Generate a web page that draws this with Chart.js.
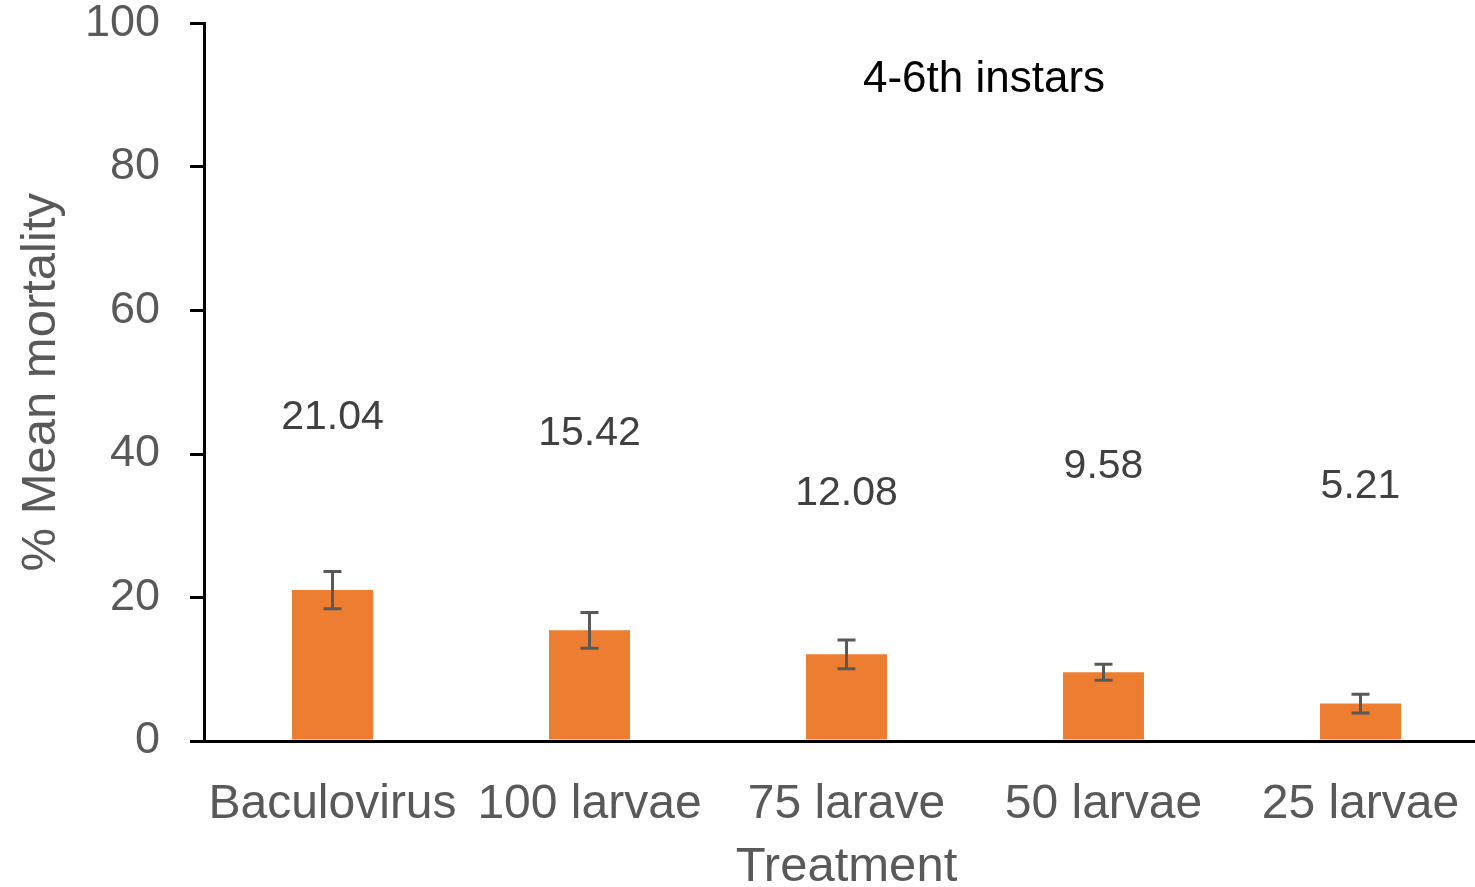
<!DOCTYPE html>
<html>
<head>
<meta charset="utf-8">
<script src="https://cdn.jsdelivr.net/npm/chart.js@4.4.1/dist/chart.umd.min.js"></script>
<style>
  html, body { margin: 0; padding: 0; background: #fff; overflow: hidden; }
  #wrap { width: 1475px; height: 887px; overflow: hidden; }
  #box { width: 1490px; height: 916px; margin-top: -29px; position: relative; }
</style>
</head>
<body>
<div id="wrap"><div id="box"><canvas id="chart"></canvas></div></div>
<script>
// data
const treatments = ["Baculovirus", "100 larvae", "75 larave", "50 larvae", "25 larvae"];
const meanMortality = [21.04, 15.42, 12.08, 9.58, 5.21];
const errorSE = [2.6, 2.5, 2.0, 1.1, 1.3];
const valueLabels = ["21.04", "15.42", "12.08", "9.58", "5.21"];
const yTicks = [0, 20, 40, 60, 80, 100];

// where the value labels sit (in % units), Excel had them hand placed
const labelLevel = [45.1, 42.8, 34.4, 38.2, 35.4];

const font = "'Liberation Sans', Arial, sans-serif";

// error bars + value labels
const extrasPlugin = {
  id: "extras",
  afterDatasetsDraw(chart) {
    const ctx = chart.ctx;
    const x = chart.scales.x, y = chart.scales.y;
    ctx.save();
    ctx.strokeStyle = "#595959";
    ctx.lineWidth = 3;
    meanMortality.forEach((v, i) => {
      const cx = x.getPixelForValue(i);
      const top = y.getPixelForValue(v + errorSE[i]);
      const bot = y.getPixelForValue(v - errorSE[i]);
      ctx.beginPath();
      ctx.moveTo(cx, top); ctx.lineTo(cx, bot);
      ctx.moveTo(cx - 9, top); ctx.lineTo(cx + 9, top);
      ctx.moveTo(cx - 9, bot); ctx.lineTo(cx + 9, bot);
      ctx.stroke();
    });
    ctx.fillStyle = "#404040";
    ctx.font = "41px " + font;
    ctx.textAlign = "center";
    ctx.textBaseline = "middle";
    valueLabels.forEach((t, i) => {
      ctx.fillText(t, x.getPixelForValue(i), y.getPixelForValue(labelLevel[i]));
    });
    // chart title sits inside the plot, just under the top
    ctx.fillStyle = "#000";
    ctx.font = "44px " + font;
    ctx.fillText("4-6th instars", 984, chart.chartArea.top + 56);
    ctx.restore();
  }
};

const config = {
  type: "bar",
  data: {
    labels: treatments,
    datasets: [{
      data: meanMortality,
      backgroundColor: "#ED7D31",
      barPercentage: 1,
      categoryPercentage: 0.315,
    }],
  },
  options: {
    responsive: true,
    maintainAspectRatio: false,
    animation: false,
    layout: { padding: { top: 0, right: 1, left: 0, bottom: 0 } },
    plugins: { legend: { display: false }, tooltip: { enabled: false } },
    scales: {
      y: {
        min: 0,
        max: 100,
        afterBuildTicks: (s) => { s.ticks = yTicks.map(v => ({ value: v })); },
        afterFit: (s) => { s.width = 204; },
        border: { color: "#000", width: 3 },
        grid: { drawOnChartArea: false, tickLength: 14, color: "#000", lineWidth: 3 },
        ticks: { color: "#595959", font: { size: 45, family: font, lineHeight: 1 }, padding: 30 },
        title: {
          display: true,
          text: "% Mean mortality",
          color: "#595959",
          font: { size: 49, family: font, lineHeight: 1 },
          padding: { top: 17, bottom: 0 },
        },
      },
      x: {
        afterFit: (s) => { s.height = 887 - 741; },
        border: { color: "#000", width: 3 },
        grid: { display: false },
        ticks: { color: "#595959", font: { size: 48, family: font }, padding: 27, maxRotation: 0, autoSkip: false },
        title: {
          display: true,
          text: "Treatment",
          color: "#595959",
          font: { size: 49, family: font, lineHeight: 0.8 },
          padding: { top: 0, bottom: 0 },
        },
      },
    },
  },
  plugins: [extrasPlugin],
};

const chart = new Chart(document.getElementById("chart"), config);
</script>
</body>
</html>
